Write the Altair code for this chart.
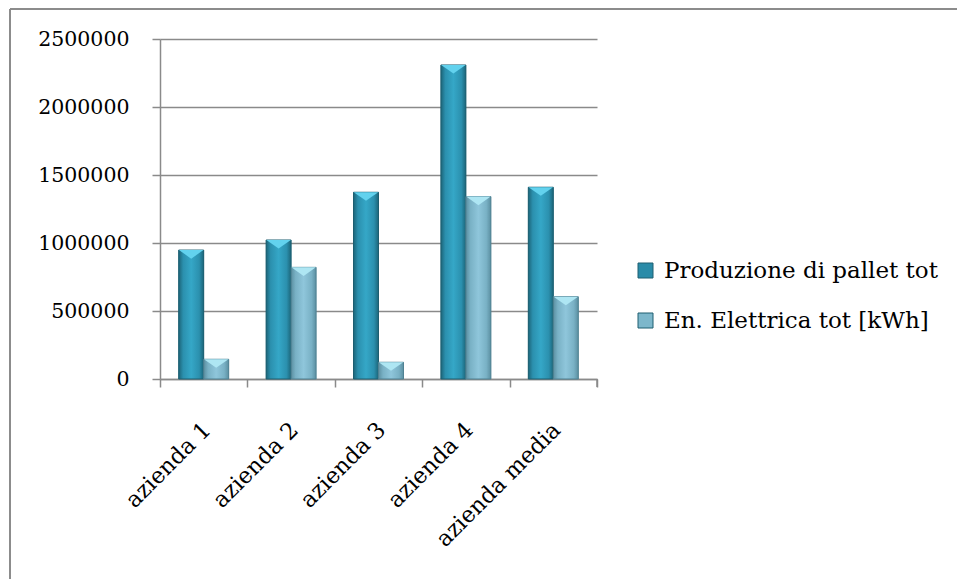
import altair as alt
import pandas as pd

categories = ["azienda 1", "azienda 2", "azienda 3", "azienda 4", "azienda media"]
series_names = ["Produzione di pallet tot", "En. Elettrica tot [kWh]"]
produzione = [948000, 1022000, 1373000, 2309000, 1410000]
energia = [145000, 821000, 123000, 1341000, 605000]
y_ticks = [0, 500000, 1000000, 1500000, 2000000, 2500000]

rows = []
for c, p, e in zip(categories, produzione, energia):
    rows.append({"cat": c, "series": series_names[0], "value": p})
    rows.append({"cat": c, "series": series_names[1], "value": e})
df = pd.DataFrame(rows)

FONT = "DejaVu Serif"
GRID = "#8a8a8a"
W, H = 437, 340

x_enc = alt.X("cat:N", sort=categories, title=None,
              scale=alt.Scale(paddingInner=0, paddingOuter=0),
              axis=alt.Axis(labelAngle=-45, labelAlign="right", labelBaseline="middle",
                            labelFont=FONT, labelFontSize=22.5, labelColor="black",
                            labelPadding=39, labelOffset=3, tickBand="extent", tickSize=8,
                            tickColor=GRID, tickWidth=1.5, domainColor=GRID,
                            domainWidth=1.5, grid=False))
xoff = alt.XOffset("series:N", sort=series_names,
                   scale=alt.Scale(domain=series_names, paddingInner=0, paddingOuter=0.748))
y_enc = alt.Y("value:Q", title=None,
              scale=alt.Scale(domain=[0, 2500000], nice=False),
              axis=alt.Axis(values=y_ticks, format="d", labelFont=FONT, labelFontSize=20.5,
                            labelColor="black", labelPadding=23, tickSize=8,
                            tickColor=GRID, tickWidth=1.5, domainColor=GRID,
                            domainWidth=1.5, gridColor=GRID, gridWidth=1.5))

base = alt.Chart(df)

legend_bars = base.mark_bar().encode(
    x=x_enc, xOffset=xoff, y=y_enc,
    color=alt.Color("series:N", sort=series_names,
                    scale=alt.Scale(domain=series_names, range=["#2a8ba8", "#7db7cb"]),
                    legend=alt.Legend(title=None, orient="none", legendX=474, legendY=220,
                                      symbolType="square", symbolSize=225,
                                      symbolStrokeColor="#1f5f70", symbolStrokeWidth=1,
                                      labelFont=FONT, labelFontSize=23, labelColor="black",
                                      labelOffset=7, rowPadding=26, labelLimit=400)),
)

grad_dark = alt.Gradient(gradient="linear", x1=0, x2=1, y1=0, y2=0, stops=[
    alt.GradientStop(color="#1c6579", offset=0),
    alt.GradientStop(color="#2b90ae", offset=0.18),
    alt.GradientStop(color="#35a7c7", offset=0.5),
    alt.GradientStop(color="#2b90ae", offset=0.82),
    alt.GradientStop(color="#1c6579", offset=1),
])
grad_light = alt.Gradient(gradient="linear", x1=0, x2=1, y1=0, y2=0, stops=[
    alt.GradientStop(color="#5b8fa1", offset=0),
    alt.GradientStop(color="#79b1c5", offset=0.18),
    alt.GradientStop(color="#8fc6db", offset=0.5),
    alt.GradientStop(color="#79b1c5", offset=0.82),
    alt.GradientStop(color="#5b8fa1", offset=1),
])

dark_bars = base.transform_filter(alt.datum.series == series_names[0]).mark_bar(
    fill=grad_dark, stroke="#1d5e70", strokeWidth=1).encode(x=x_enc, xOffset=xoff, y=y_enc)
light_bars = base.transform_filter(alt.datum.series == series_names[1]).mark_bar(
    fill=grad_light, stroke="#4f8192", strokeWidth=1).encode(x=x_enc, xOffset=xoff, y=y_enc)

tops = base.mark_point(shape="M-1,0L1,0L0,0.7Z", size=600, filled=True, opacity=1,
                       strokeWidth=0).encode(
    x=x_enc, xOffset=xoff, y=y_enc,
    fill=alt.Fill("series:N", sort=series_names,
                  scale=alt.Scale(domain=series_names, range=["#62d2ee", "#aee6f3"]),
                  legend=None),
)

end_tick = alt.Chart(alt.Data(values=[{}])).mark_rule(color=GRID, strokeWidth=1.5).encode(
    x=alt.value(W), y=alt.value(H), y2=alt.value(H + 8))

frame_top = alt.Chart(alt.Data(values=[{}])).mark_rule(color="#8c8c8c", strokeWidth=2).encode(
    x=alt.value(-150), x2=alt.value(W + 360), y=alt.value(-30))
frame_left = alt.Chart(alt.Data(values=[{}])).mark_rule(color="#8c8c8c", strokeWidth=2).encode(
    x=alt.value(-150), y=alt.value(-30), y2=alt.value(H + 200))

chart = alt.layer(frame_top, frame_left, legend_bars, dark_bars, light_bars, tops,
                  end_tick).properties(
    width=W, height=H,
    autosize=alt.AutoSizeParams(type="none"),
    padding={"left": 160, "top": 39, "right": 360, "bottom": 200},
    background="white",
).configure_view(stroke=None)

chart.save("out.html", embed_options={"renderer": "svg", "actions": False})
